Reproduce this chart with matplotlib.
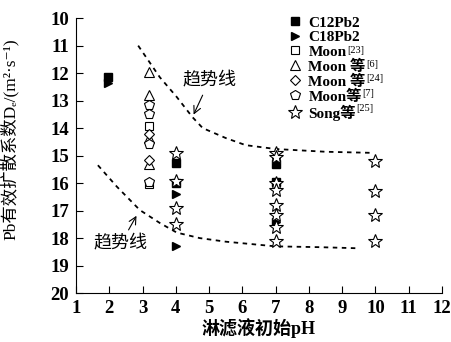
import matplotlib
matplotlib.use("Agg")
import matplotlib.pyplot as plt

plt.rcParams['font.family'] = ['Liberation Serif', 'Noto Sans CJK SC', 'DejaVu Serif']

# 数据
c12_x = [1.95, 4, 4, 7, 7]
c12_y = [12.15, 15.27, 16.0, 15.3, 15.95]
c18_x = [1.97, 4, 4, 7]
c18_y = [12.35, 16.4, 18.3, 17.4]
moon23_x = [3.2, 3.2]
moon23_y = [13.93, 16.05]
moon6_x = [3.2, 3.2, 3.2, 3.2]
moon6_y = [11.95, 12.78, 14.35, 15.3]
moon24_x = [3.2, 3.2]
moon24_y = [14.2, 15.15]
moon7_x = [3.2, 3.2, 3.2, 3.2]
moon7_y = [13.16, 13.5, 14.58, 15.95]
song_x = [4, 4, 4, 4, 7, 7, 7, 7, 7, 7, 7, 7, 10, 10, 10, 10]
song_y = [14.9, 15.93, 16.9, 17.5, 14.9, 15.05, 16.0, 16.25, 16.8, 17.15, 17.6, 18.1,
          15.2, 16.3, 17.15, 18.1]

# 趋势线
up_x = [2.87, 3.52, 4.03, 4.5, 4.81, 5.5, 6.1, 7.0, 8.5, 9.9]
up_y = [11.0, 12.15, 12.87, 13.6, 14.0, 14.36, 14.62, 14.76, 14.86, 14.9]
low_x = [1.66, 2.23, 2.92, 3.52, 4.03, 4.72, 5.5, 7.0, 8.33, 9.47]
low_y = [15.35, 16.13, 16.98, 17.45, 17.8, 18.0, 18.13, 18.3, 18.33, 18.37]

labels = ['C12Pb2', 'C18Pb2', 'Moon', 'Moon 等', 'Moon 等', 'Moon等', 'Song等']
refs = ['', '', '[23]', '[6]', '[24]', '[7]', '[25]']

fig = plt.figure(figsize=(4.52, 3.42), dpi=100)
ax = fig.add_axes([0.168, 0.143, 0.81, 0.804])

ax.plot(up_x, up_y, 'k', ls=(0, (2.5, 2.5)), lw=1.3)
ax.plot(low_x, low_y, 'k', ls=(0, (2.5, 2.5)), lw=1.3)

ms = 6
open_kw = dict(mfc='white', mec='k', mew=0.8, ls='none')
ax.plot(c12_x, c12_y, 's', color='k', ms=ms, label=labels[0])
ax.plot(c18_x, c18_y, '>', color='k', ms=ms, label=labels[1])
ax.plot(moon23_x, moon23_y, 's', ms=ms, label=labels[2], **open_kw)
ax.plot(moon6_x, moon6_y, '^', ms=ms + 1, label=labels[3], **open_kw)
ax.plot(moon24_x, moon24_y, 'D', ms=ms - 1, label=labels[4], **open_kw)
ax.plot(moon7_x, moon7_y, 'p', ms=ms + 1, label=labels[5], **open_kw)
ax.plot(song_x, song_y, '*', ms=ms + 4, label=labels[6], **open_kw)

ax.annotate('趋势线', xy=(4.5, 13.6), xytext=(5.0, 12.3), ha='center', va='center',
            fontsize=13, arrowprops=dict(arrowstyle='->', color='k', lw=0.8))
ax.annotate('趋势线', xy=(2.86, 17.1), xytext=(2.35, 18.2), ha='center', va='center',
            fontsize=13, arrowprops=dict(arrowstyle='->', color='k', lw=0.8))

ax.set_xlim(1, 12)
ax.set_ylim(20, 10)
ax.set_xticks(range(1, 13))
ax.set_yticks(range(10, 21))
ax.tick_params(direction='in', length=5, labelsize=13.5, pad=5)
for lab in ax.get_xticklabels() + ax.get_yticklabels():
    lab.set_fontweight('bold')
ax.spines['top'].set_visible(False)
ax.spines['right'].set_visible(False)

ax.set_xlabel('淋滤液初始pH', fontsize=13, fontweight='bold', labelpad=1)
ax.set_ylabel('Pb有效扩散系数Dₑ/(m²·s⁻¹)', fontsize=12.5)
ax.yaxis.set_label_coords(-0.155, 0.56)

leg = ax.legend(loc='upper left', bbox_to_anchor=(0.56, 1.035), frameon=False,
                prop={'weight': 'bold', 'size': 11}, handlelength=0.8,
                handletextpad=0.5, labelspacing=0.05, borderpad=0)

# 图例中的上标文献号（在图例之后绘制）
for txt, r in zip(leg.get_texts(), refs):
    if r:
        ax.annotate(r, xy=(1, 1), xycoords=txt, xytext=(0.3, 0),
                    textcoords='offset points', ha='left', va='top',
                    fontsize=7.5, zorder=10)

fig.savefig('out.png', dpi=100)
